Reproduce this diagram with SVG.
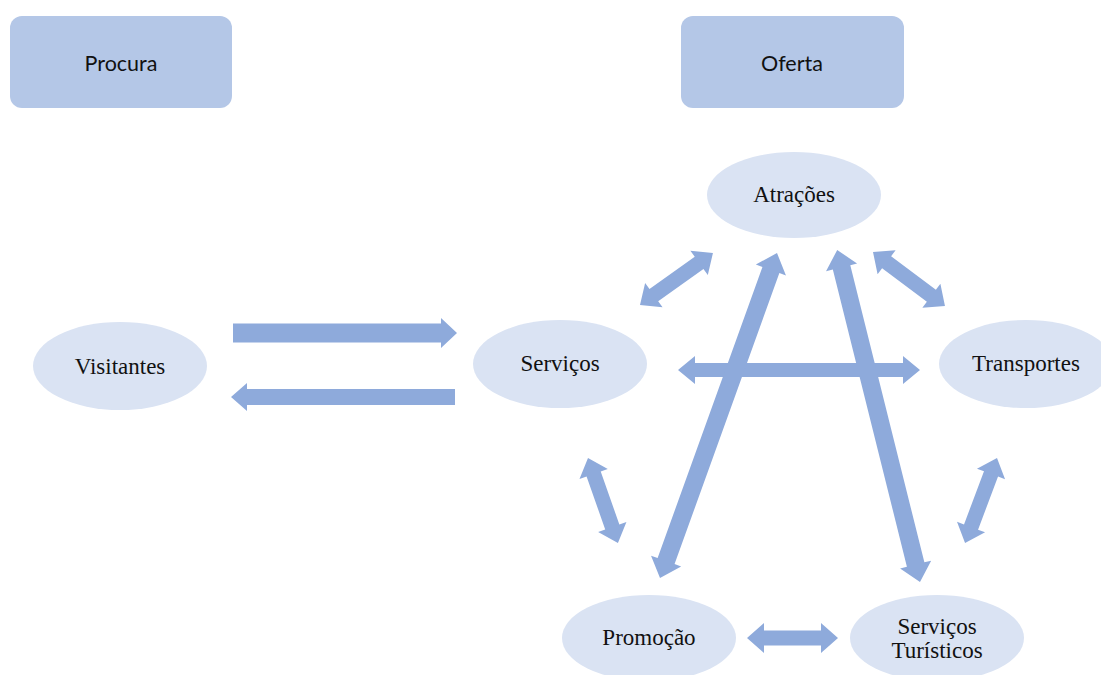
<svg xmlns="http://www.w3.org/2000/svg" width="1101" height="675" viewBox="0 0 1101 675">
<style>
.box{fill:#b4c7e7;}
.ell{fill:#dae3f3;}
.arr{fill:#8eaadb;}
.bt{font-family:Lato,"Open Sans","Liberation Sans",sans-serif;font-size:21.5px;fill:#111;text-anchor:middle;dominant-baseline:central;}
.et{font-family:"Liberation Serif",serif;font-size:23px;fill:#111;text-anchor:middle;dominant-baseline:central;}
</style>
<rect width="1101" height="675" fill="#fff"/>
<g id="connectors">
<path class="arr" transform="translate(233,333)" d="M0,-9.5 L208,-9.5 L208,-15 L224,0 L208,15 L208,9.5 L0,9.5 Z"/>
<path class="arr" transform="translate(455,397) rotate(180)" d="M0,-8 L208,-8 L208,-14 L224,0 L208,14 L208,8 L0,8 Z"/>
<path class="arr" transform="translate(678,370)" d="M0,0 L17,-14 L17,-7 L225,-7 L225,-14 L242,0 L225,14 L225,7 L17,7 L17,14 Z"/>
<path class="arr" transform="translate(640,305) rotate(-35.5)" d="M0,0 L17,-15 L17,-7.5 L72.6,-7.5 L72.6,-15 L89.6,0 L72.6,15 L72.6,7.5 L17,7.5 L17,15 Z"/>
<path class="arr" transform="translate(873,252) rotate(36.9)" d="M0,0 L17,-15 L17,-7.5 L73,-7.5 L73,-15 L90,0 L73,15 L73,7.5 L17,7.5 L17,15 Z"/>
<path class="arr" transform="translate(660,578) rotate(-70.2)" d="M0,0 L18,-16 L18,-9 L327.4,-9 L327.4,-16 L345.4,0 L327.4,16 L327.4,9 L18,9 L18,16 Z"/>
<path class="arr" transform="translate(920,582) rotate(-104)" d="M0,0 L18,-16 L18,-9 L324.2,-9 L324.2,-16 L342.2,0 L324.2,16 L324.2,9 L18,9 L18,16 Z"/>
<path class="arr" transform="translate(588,458) rotate(70.6)" d="M0,0 L17,-15 L17,-7.5 L73.1,-7.5 L73.1,-15 L90.1,0 L73.1,15 L73.1,7.5 L17,7.5 L17,15 Z"/>
<path class="arr" transform="translate(997,458) rotate(110.6)" d="M0,0 L17,-15 L17,-7.5 L73.8,-7.5 L73.8,-15 L90.8,0 L73.8,15 L73.8,7.5 L17,7.5 L17,15 Z"/>
<path class="arr" transform="translate(747,638)" d="M0,0 L17,-15 L17,-7.5 L74,-7.5 L74,-15 L91,0 L74,15 L74,7.5 L17,7.5 L17,15 Z"/>
</g>
<g id="procura"><rect class="box" x="10" y="16" width="222" height="92" rx="12"/><text class="bt" x="121" y="63">Procura</text></g>
<g id="oferta"><rect class="box" x="681" y="16" width="223" height="92" rx="12"/><text class="bt" x="792" y="63">Oferta</text></g>
<g id="atracoes"><ellipse class="ell" cx="794" cy="195" rx="87" ry="43"/><text class="et" x="794" y="194">Atrações</text></g>
<g id="visitantes"><ellipse class="ell" cx="120" cy="366" rx="87" ry="44"/><text class="et" x="120" y="366">Visitantes</text></g>
<g id="servicos"><ellipse class="ell" cx="560" cy="364" rx="87" ry="44"/><text class="et" x="560" y="363">Serviços</text></g>
<g id="transportes"><ellipse class="ell" cx="1026" cy="364" rx="87" ry="44"/><text class="et" x="1026" y="363">Transportes</text></g>
<g id="promocao"><ellipse class="ell" cx="649" cy="638" rx="87" ry="43"/><text class="et" x="649" y="637">Promoção</text></g>
<g id="servicos-turisticos"><ellipse class="ell" cx="937" cy="638" rx="87" ry="43"/><text class="et" x="937" y="626">Serviços</text><text class="et" x="937" y="650">Turísticos</text></g>
</svg>
